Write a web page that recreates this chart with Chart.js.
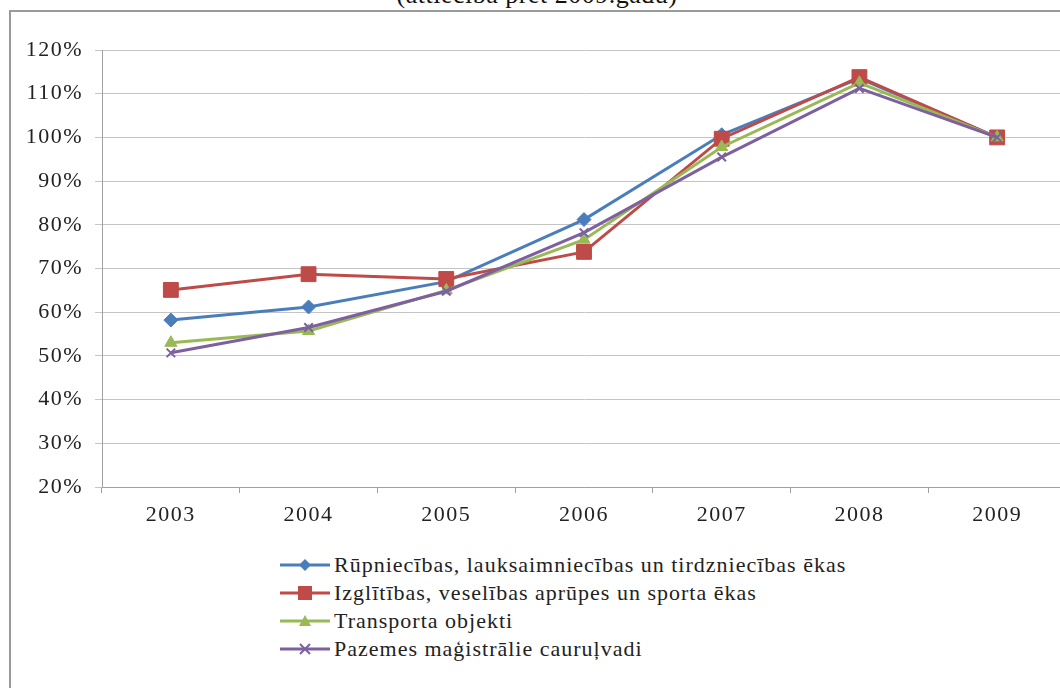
<!DOCTYPE html>
<html>
<head>
<meta charset="utf-8">
<script src="https://cdn.jsdelivr.net/npm/chart.js@4.4.0/dist/chart.umd.min.js"></script>
<style>
  body { margin: 0; width: 1060px; height: 688px; overflow: hidden; background: #fff; position: relative; }
  #title { position: absolute; left: 0; width: 1074px; top: -18px; text-align: center;
           font-family: "Liberation Serif", "Times New Roman", serif;
           font-size: 26px; color: #111; line-height: 26px; white-space: nowrap; letter-spacing: 0.5px; }
  #frame { position: absolute; left: 9px; top: 10px; width: 1100px; height: 700px;
           border: 2px solid #9a9a9a; box-sizing: border-box; }
  #chart { position: absolute; left: 0; top: 0; }
  #legend { position: absolute; left: 280px; top: 551px;
            font-family: "Liberation Serif", "Times New Roman", serif;
            font-size: 22px; letter-spacing: 1px; color: #222; }
  #legend .row { height: 28px; display: flex; align-items: center; white-space: nowrap; }
  #legend svg { margin-right: 2px; }
</style>
</head>
<body>
<div id="title">(attiecībā pret 2009.gadu)</div>
<div id="frame"></div>
<canvas id="chart" width="1080" height="540"></canvas>
<div id="legend"></div>
<script>
// years and index values (% of 2009)
var years = ['2003', '2004', '2005', '2006', '2007', '2008', '2009'];
var rupniecibas = [58.2, 61.2, 67.0, 81.2, 100.6, 113.5, 100];
var izglitibas = [65.1, 68.7, 67.6, 73.8, 99.7, 113.8, 100];
var transporta = [53.0, 55.7, 65.0, 76.6, 97.8, 112.5, 100];
var pazemes = [50.7, 56.5, 64.8, 78.2, 95.5, 111.2, 100];
var yTicks = [20, 30, 40, 50, 60, 70, 80, 90, 100, 110, 120];

var seriesNames = [
  'Rūpniecības, lauksaimniecības un tirdzniecības ēkas',
  'Izglītības, veselības aprūpes un sporta ēkas',
  'Transporta objekti',
  'Pazemes maģistrālie cauruļvadi'
];

var serif = '"Liberation Serif", "Times New Roman", serif';
var tickFont = { family: serif, size: 22 };

function makeSet(i, data, color, style, radius) {
  return {
    label: seriesNames[i],
    data: data,
    borderColor: color,
    backgroundColor: color,
    borderWidth: 3,
    pointStyle: style,
    pointRadius: radius,
    pointBorderWidth: style === 'crossRot' ? 2 : 1,
    pointBorderColor: color,
    pointBackgroundColor: color,
    tension: 0,
    order: 4 - i
  };
}

var datasets = [
  makeSet(0, rupniecibas, '#4A7EBB', 'rectRot', 7),
  makeSet(1, izglitibas, '#BE4B48', 'rect', 10.5),
  makeSet(2, transporta, '#98B954', 'triangle', 7),
  makeSet(3, pazemes, '#7D60A0', 'crossRot', 6)
];

// the original labels are a bit wider than the font, spread them out
var spacing = {
  id: 'spacing',
  beforeDraw: function(chart) { chart.ctx.letterSpacing = '1.5px'; }
};

var ctx = document.getElementById('chart').getContext('2d');
new Chart(ctx, {
  type: 'line',
  data: { labels: years, datasets: datasets },
  plugins: [spacing],
  options: {
    responsive: false,
    devicePixelRatio: 1,
    animation: false,
    layout: { padding: { left: 0, top: 50, right: 14, bottom: 0 } },
    plugins: { legend: { display: false }, tooltip: { enabled: false } },
    scales: {
      x: {
        type: 'category',
        offset: true,
        grid: { display: true, drawOnChartArea: false, drawTicks: true, tickLength: 6, color: '#a0a0a0', offset: true },
        border: { color: '#a0a0a0', width: 1 },
        ticks: { font: tickFont, color: '#222', padding: 9, maxRotation: 0 },
        afterFit: function(s) { s.height = 53; }
      },
      y: {
        min: 20,
        max: 120,
        afterBuildTicks: function(s) { s.ticks = yTicks.map(function(v) { return { value: v }; }); },
        grid: { color: '#c4c4c4', tickLength: 7, lineWidth: 1 },
        border: { color: '#a0a0a0', width: 1 },
        ticks: { font: tickFont, color: '#222', padding: 12, callback: function(v) { return v + '%'; } },
        afterFit: function(s) { s.width = 102; }
      }
    }
  }
});

// legend below the chart, like the original
function sample(ds) {
  var c = ds.borderColor, m = '';
  if (ds.pointStyle === 'rectRot') {
    m = '<polygon points="25,1 31,7 25,13 19,7" fill="' + c + '"/>';
  } else if (ds.pointStyle === 'rect') {
    m = '<rect x="18" y="0" width="14" height="14" fill="' + c + '"/>';
  } else if (ds.pointStyle === 'triangle') {
    m = '<polygon points="25,1 31,12 19,12" fill="' + c + '"/>';
  } else {
    m = '<path d="M20,2 L30,12 M30,2 L20,12" stroke="' + c + '" stroke-width="2"/>';
  }
  return '<svg width="52" height="14"><line x1="0" y1="7" x2="50" y2="7" stroke="' + c + '" stroke-width="3"/>' + m + '</svg>';
}
var html = '';
datasets.forEach(function(ds) {
  html += '<div class="row">' + sample(ds) + '<span>' + ds.label + '</span></div>';
});
document.getElementById('legend').innerHTML = html;
</script>
</body>
</html>
